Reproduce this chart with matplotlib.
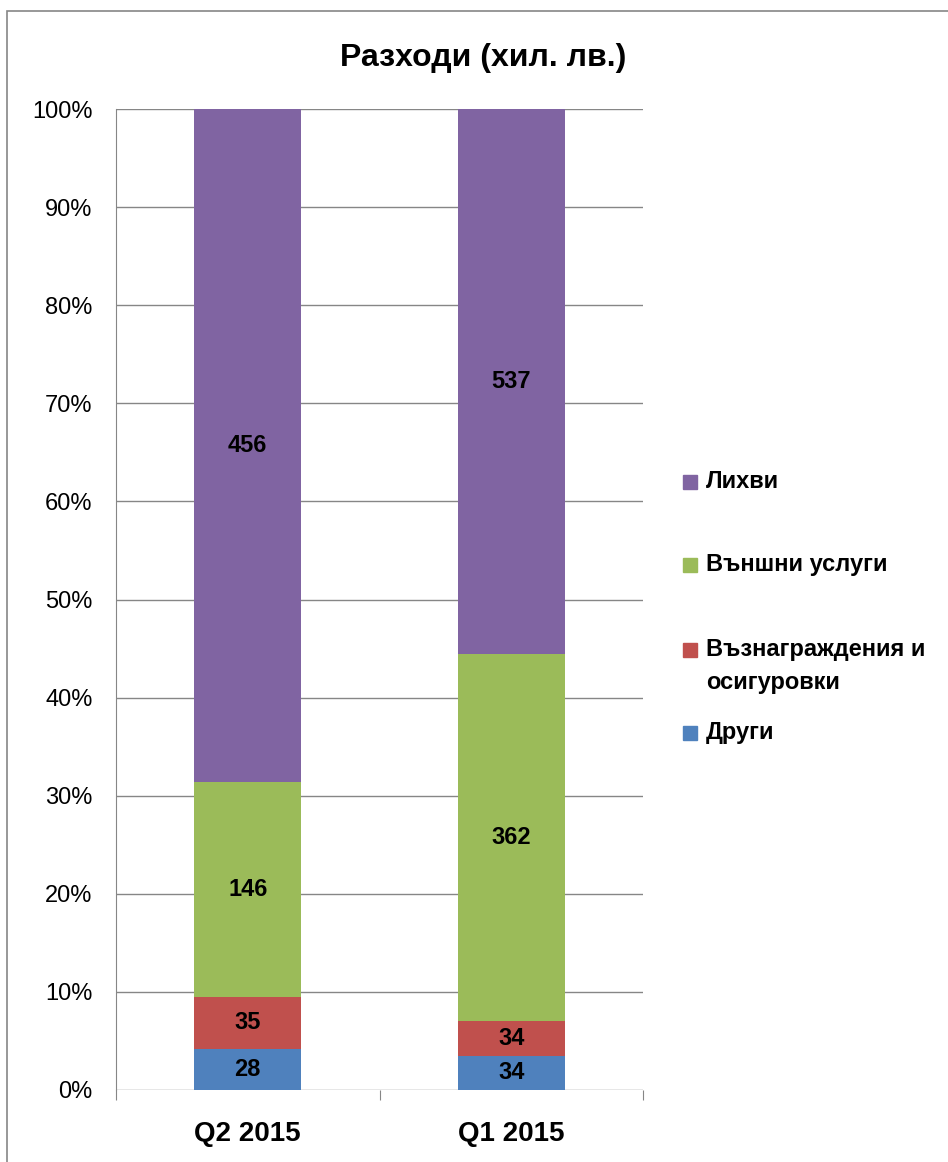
import numpy as np
import matplotlib.pyplot as plt
from matplotlib.patches import Rectangle

plt.rcParams['font.family'] = ['Liberation Sans', 'DejaVu Sans']

# data (хил. лв.)
categories = ["Q2 2015", "Q1 2015"]
series_names = ["Други", "Възнаграждения и\nосигуровки", "Външни услуги", "Лихви"]
drugi = [28, 34]
vaznagr = [35, 34]
vanshni = [146, 362]
lihvi = [456, 537]
colors = ["#4F81BD", "#C0504D", "#9BBB59", "#8064A2"]

series = [np.array(drugi), np.array(vaznagr), np.array(vanshni), np.array(lihvi)]
total = sum(series)

W, H = 948, 1162
fig = plt.figure(figsize=(W/100, H/100), dpi=100)
ax = fig.add_axes([116/W, 1 - 1090/H, (643-116)/W, (1090-109)/H])

# outer chart border
fig.add_artist(Rectangle((7/W, -0.01), 1.0, 1 - 11/H + 0.01, transform=fig.transFigure,
                         fill=False, edgecolor="#868686", lw=1.2))

x = np.arange(len(categories))
bottom = np.zeros(len(categories))
for vals, name, c in zip(series, series_names, colors):
    pct = vals / total * 100
    ax.bar(x, pct, 0.406, bottom=bottom, color=c, label=name, zorder=3)
    for xi, p, bt, v in zip(x, pct, bottom, vals):
        ax.text(xi, bt + p/2, str(v), ha="center", va="center", fontsize=17,
                fontweight="bold", color="black", zorder=4)
    bottom = bottom + pct

ax.set_xlim(-0.5, 1.5)
ax.set_ylim(0, 100)
ax.set_yticks(np.arange(0, 101, 10))
ax.set_yticklabels([f"{v}%" for v in range(0, 101, 10)], fontsize=17)
ax.yaxis.grid(True, color="#868686", lw=1, zorder=0)
ax.tick_params(axis="y", length=0, pad=17)
ax.set_xticks([-0.5, 0.5, 1.5])
ax.set_xticklabels([])
ax.set_xticks(x, minor=True)
ax.set_xticklabels(categories, minor=True, fontsize=20, fontweight="bold")
ax.tick_params(axis="x", which="major", length=7, color="#868686")
ax.tick_params(axis="x", which="minor", length=0, pad=22)
for s in ["top", "right", "bottom"]:
    ax.spines[s].set_visible(False)
ax.spines["left"].set_color("#868686")

fig.text(483/W, 1 - 58/H, "Разходи (хил. лв.)", ha="center", va="center",
         fontsize=23, fontweight="bold")

# legend, drawn by hand (uneven spacing as in the original)
leg_y = [733, 650, 565, 482]  # first-line centres, px from top
for name, c, yy in zip(series_names, colors, leg_y):
    fig.add_artist(Rectangle((683/W, 1 - (yy + 7)/H), 14/W, 14/H,
                             transform=fig.transFigure, color=c))
    fig.text(706/W, 1 - (yy - 12)/H, name, ha="left", va="top", fontsize=17,
             fontweight="bold", linespacing=1.55)

plt.savefig("out.png", dpi=100)
plt.close(fig)
